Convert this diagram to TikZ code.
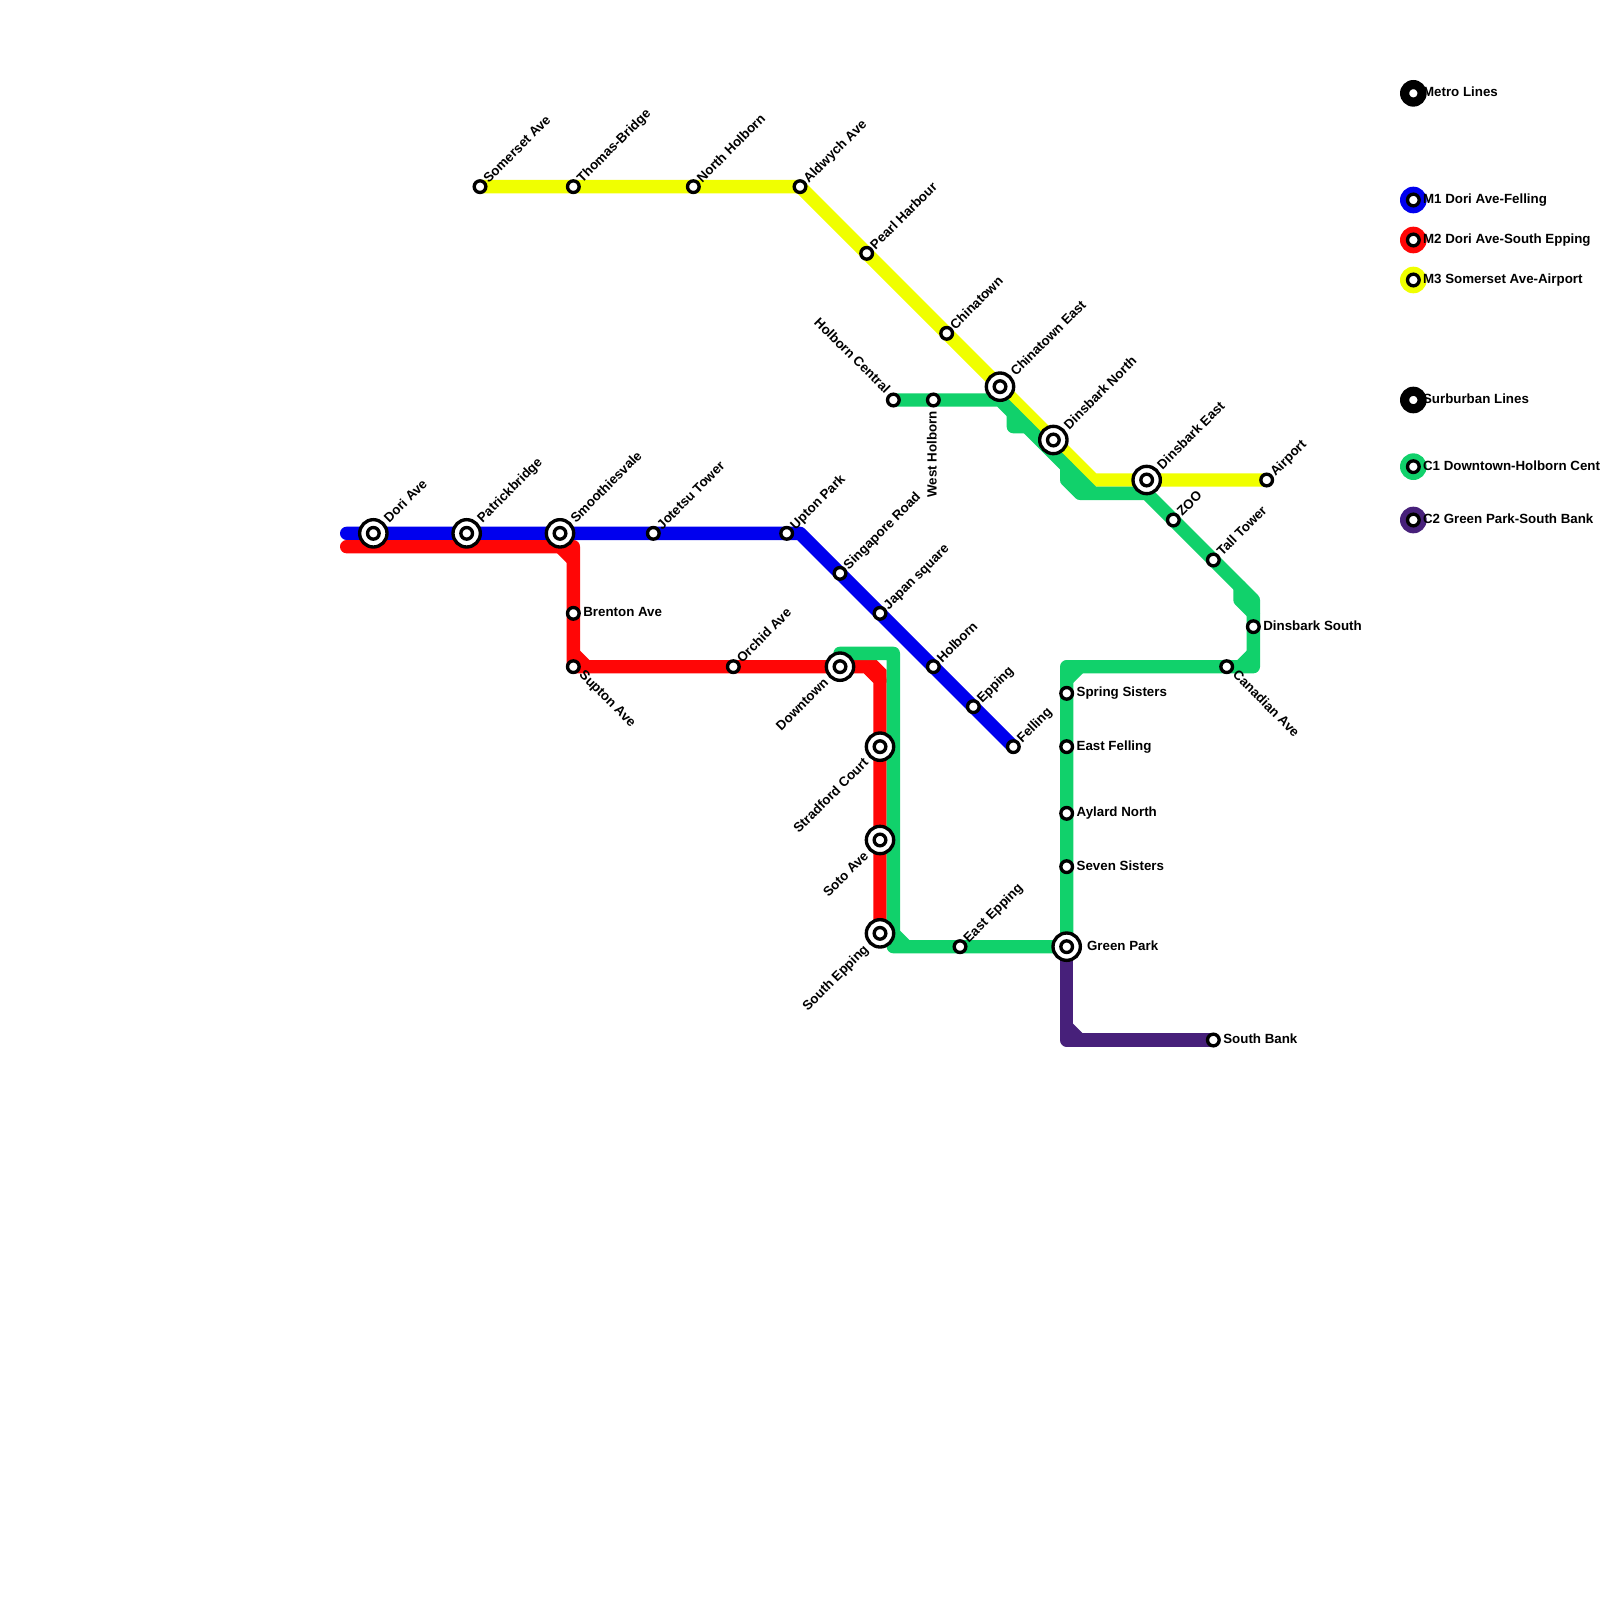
\documentclass[tikz,border=0pt]{standalone}
\usepackage{fontspec}
\setmainfont{Liberation Sans}
\usetikzlibrary{backgrounds}
\definecolor{lblue}{HTML}{0000EE}
\definecolor{lred}{HTML}{FF0606}
\definecolor{lyellow}{HTML}{F0FF00}
\definecolor{lgreen}{HTML}{11D16B}
\definecolor{lpurple}{HTML}{47207A}
\tikzset{
  stnode/.style={circle,draw=black,fill=white,line width=.0628cm,minimum size=.2185cm,inner sep=0pt},
  ringnode/.style={circle,draw=black,fill=white,line width=.0628cm,minimum size=.5128cm,inner sep=0pt},
  keynode/.style={circle,fill=#1,minimum size=.5cm,inner sep=0pt},
  labnode/.style={inner sep=0pt,text=black,font=\fontsize{7.11pt}{8.5pt}\selectfont\bfseries},
  metroline/.style={line width=.25cm,line join=round,line cap=round},
}
\newcommand\stn[3]{\node[stnode] (#1) at (#2,#3) {};}
\newcommand\bigstn[3]{\node[ringnode] (#1r) at (#2,#3) {};\node[stnode] (#1) at (#2,#3) {};}
\newcommand\lne[2]{\node[labnode,rotate=45,anchor=base west] (L#1) at ([shift={(.65,-.22)}]#1.center) {#2};}
\newcommand\lnb[2]{\node[labnode,rotate=45,anchor=base west] (L#1) at ([shift={(1.18,-.73)}]#1.center) {#2};}
\newcommand\lsw[2]{\node[labnode,rotate=45,anchor=base east] (L#1) at ([shift={(-.8,1.25)}]#1.center) {#2};}
\newcommand\lee[3][.72]{\node[labnode,anchor=base west] (L#2) at ([shift={(#1,.27)}]#2.center) {#3};}
\newcommand\lse[2]{\node[labnode,rotate=-45,anchor=base west] (L#1) at ([shift={(.38,.67)}]#1.center) {#2};}
\newcommand\keyitem[4]{\node[keynode=#2] (K#1) at (106,#3) {};\node[stnode] (S#1) at (106,#3) {};\node[labnode,anchor=base west] (T#1) at (106.7,#3+.27) {#4};}
\begin{document}
\begin{tikzpicture}[x=.25cm,y=-.25cm]
\useasboundingbox (0,0) rectangle (120,120);
\clip (0,0) rectangle (120,120);
% M1
\bigstn{Dori}{28}{40}\bigstn{Patrick}{35}{40}\bigstn{Smooth}{42}{40}
\stn{Jotetsu}{49}{40}\stn{Upton}{59}{40}\stn{Singapore}{63}{43}\stn{Japan}{66}{46}
\stn{Holborn}{70}{50}\stn{Epping}{73}{53}\stn{Felling}{76}{56}
% M2
\stn{Brenton}{43}{46}\stn{Supton}{43}{50}\stn{Orchid}{55}{50}\bigstn{Downtown}{63}{50}
\bigstn{Stradford}{66}{56}\bigstn{Soto}{66}{63}\bigstn{SouthEpping}{66}{70}
% M3
\stn{Somerset}{36}{14}\stn{Thomas}{43}{14}\stn{NorthHolborn}{52}{14}\stn{Aldwych}{60}{14}
\stn{Pearl}{65}{19}\stn{Chinatown}{71}{25}\bigstn{ChinatownEast}{75}{29}\bigstn{DinsbarkNorth}{79}{33}
\bigstn{DinsbarkEast}{86}{36}\stn{Airport}{95}{36}
% C1
\stn{HolbornCentral}{67}{30}\stn{WestHolborn}{70}{30}\stn{Zoo}{88}{39}\stn{Tall}{91}{42}
\stn{DinsbarkSouth}{94}{47}\stn{Canadian}{92}{50}\stn{Spring}{80}{52}\stn{EastFelling}{80}{56}
\stn{Aylard}{80}{61}\stn{Seven}{80}{65}\bigstn{GreenPark}{80}{71}\stn{EastEpping}{72}{71}
% C2
\stn{SouthBank}{91}{78}
\begin{scope}[on background layer]
\coordinate (a1) at (26,40);\coordinate (a2) at (60,40);
\draw[metroline,lblue] (a1)--(a2)--(Felling.center);
\coordinate (b1) at (26,41);\coordinate (b2) at (43,41);\coordinate (b3) at (42,41);\coordinate (b4) at (43,42);
\coordinate (b5) at (44,50);\coordinate (b6) at (43,49);\coordinate (b7) at (65,50);\coordinate (b8) at (66,51);
\draw[metroline,lred] (b1)--(b2)--(Supton.center)--(b5)--(b7)--(b8)--(SouthEpping.center);
\draw[line width=.25cm,lred] (b3)--(b4) (b6)--(b5);
\fill[lred] (64.8,49.5)--(65.75,49.5)--(66.5,50.25)--(66.5,51.2)--(65.5,51.2)--(64.8,50.5)--cycle;
\coordinate (c1) at (82,36);
\draw[metroline,lyellow] (Somerset.center)--(Aldwych.center)--(c1)--(Airport.center);
\coordinate (d1) at (75,30);\coordinate (d2) at (76,31);\coordinate (d3) at (76,32);\coordinate (d4) at (77,32);
\coordinate (d5) at (80,35);\coordinate (d6) at (80,36);\coordinate (d7) at (81,37);\coordinate (d8) at (82,37);\coordinate (d9) at (86,37);
\coordinate (d10) at (93,44);\coordinate (d11) at (93,45);\coordinate (d12) at (94,46);\coordinate (d13) at (94,45);
\coordinate (d14) at (94,50);\coordinate (d15) at (93,50);\coordinate (d16) at (94,49);
\coordinate (d17) at (81,50);\coordinate (d18) at (80,50);\coordinate (d19) at (80,51);
\coordinate (d20) at (67,71);\coordinate (d21) at (67,70);\coordinate (d22) at (68,71);\coordinate (d23) at (67,49);\coordinate (d24) at (63,49);
\draw[metroline,lgreen] (HolbornCentral.center)--(d1)--(d8)--(d9)--(d13)--(d14)--(d18)--(GreenPark.center)--(d20)--(d23)--(d24);
\draw[metroline,lgreen] (d2)--(d3)--(d4) (d5)--(d6)--(d7)--(d8) (d10)--(d11)--(d12);
\draw[line width=.25cm,lgreen] (d15)--(d16) (d17)--(d19) (d21)--(d22);
\coordinate (e1) at (80,78);\coordinate (e2) at (80,77);\coordinate (e3) at (81,78);
\draw[metroline,lpurple] (GreenPark.center)--(e1)--(SouthBank.center);
\draw[line width=.25cm,lpurple] (e2)--(e3);
\end{scope}
% labels
\lnb{Dori}{Dori Ave}\lnb{Patrick}{Patrickbridge}\lnb{Smooth}{Smoothiesvale}
\lne{Jotetsu}{Jotetsu Tower}\lne{Upton}{Upton Park}\lne{Singapore}{Singapore Road}\lne{Japan}{Japan square}
\lne{Holborn}{Holborn}\lne{Epping}{Epping}\lne{Felling}{Felling}
\lee{Brenton}{Brenton Ave}\lse{Supton}{Supton Ave}\lne{Orchid}{Orchid Ave}
\lsw{Downtown}{Downtown}\lsw{Stradford}{Stradford Court}\lsw{Soto}{Soto Ave}\lsw{SouthEpping}{South Epping}
\lne{Somerset}{Somerset Ave}\lne{Thomas}{Thomas-Bridge}\lne{NorthHolborn}{North Holborn}\lne{Aldwych}{Aldwych Ave}
\lne{Pearl}{Pearl Harbour}\lne{Chinatown}{Chinatown}\lnb{ChinatownEast}{Chinatown East}\lnb{DinsbarkNorth}{Dinsbark North}
\lnb{DinsbarkEast}{Dinsbark East}\lne{Airport}{Airport}
\node[labnode,rotate=-45,anchor=base east] (LHolbornCentral) at ([shift={(-.63,-.4)}]HolbornCentral.center) {Holborn Central};
\node[labnode,rotate=90,anchor=base east] (LWestHolborn) at ([shift={(.25,.8)}]WestHolborn.center) {West Holborn};
\lne{Zoo}{ZOO}\lne{Tall}{Tall Tower}\lee{DinsbarkSouth}{Dinsbark South}\lse{Canadian}{Canadian Ave}
\lee{Spring}{Spring Sisters}\lee{EastFelling}{East Felling}\lee{Aylard}{Aylard North}\lee{Seven}{Seven Sisters}
\lee[1.5]{GreenPark}{Green Park}\lne{EastEpping}{East Epping}\lee{SouthBank}{South Bank}
% key
\keyitem{a}{black}{7}{Metro Lines}
\keyitem{b}{lblue}{15}{M1 Dori Ave-Felling}
\keyitem{c}{lred}{18}{M2 Dori Ave-South Epping}
\keyitem{d}{lyellow}{21}{M3 Somerset Ave-Airport}
\keyitem{e}{black}{30}{Surburban Lines}
\keyitem{f}{lgreen}{35}{C1 Downtown-Holborn Central}
\keyitem{g}{lpurple}{39}{C2 Green Park-South Bank}
\end{tikzpicture}
\end{document}
